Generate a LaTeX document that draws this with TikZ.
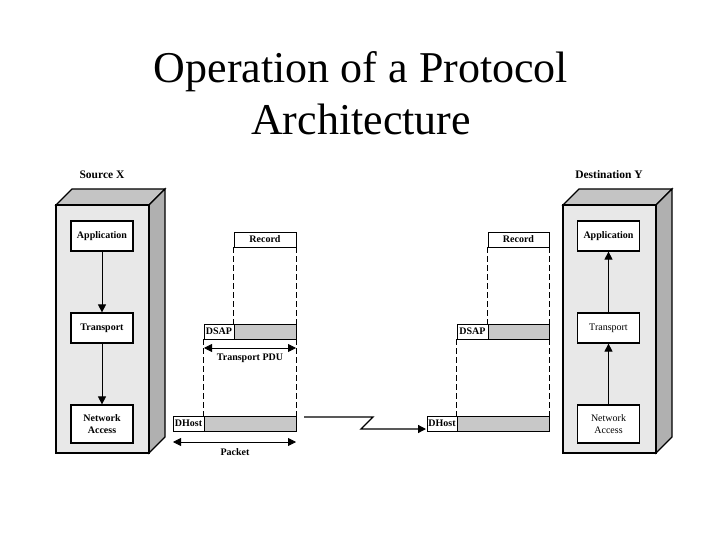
\documentclass[tikz,border=0pt]{standalone}
\usepackage{fontspec}
\setmainfont{Liberation Serif}
\usetikzlibrary{arrows.meta}
\definecolor{facefront}{RGB}{232,232,232}
\definecolor{facetop}{RGB}{196,196,196}
\definecolor{faceside}{RGB}{176,176,176}
\definecolor{pdugray}{RGB}{200,200,200}
\begin{document}
\begin{tikzpicture}[x=1pt,y=-1pt,
  titlefont/.style={font=\fontsize{44}{52}\selectfont},
  layer/.style={draw, fill=white, minimum width=62pt, minimum height=30pt, inner sep=0pt, align=center, line width=1.2pt, font=\fontsize{10}{11.5}\selectfont\bfseries},
  layerlight/.style={layer, font=\fontsize{10}{11.5}\selectfont},
  hdr/.style={draw, fill=white, inner sep=0pt, minimum height=15pt, line width=0.7pt, font=\fontsize{10}{11}\selectfont\bfseries},
  pdu/.style={draw, fill=pdugray, inner sep=0pt, minimum height=15pt, line width=0.7pt},
  lbl/.style={inner sep=0pt, font=\fontsize{10}{11}\selectfont\bfseries},
  stlbl/.style={inner sep=0pt, font=\fontsize{11.5}{13}\selectfont\bfseries},
  arr/.style={-{Triangle[length=8pt,width=8pt]}, line width=0.8pt},
  darr/.style={{Triangle[length=8pt,width=8pt]}-{Triangle[length=8pt,width=8pt]}, line width=0.8pt},
  dsh/.style={dash pattern=on 6pt off 3pt, line width=0.7pt}]
\useasboundingbox (0,0) rectangle (720,540);

% title
\node[titlefont, anchor=base] (title1) at (361,83) {Operation of a Protocol};
\node[titlefont, anchor=base] (title2) at (361,135) {Architecture};

% ---- left station
\filldraw[fill=facetop, line width=1.2pt] (56,205) -- (72,189) -- (165,189) -- (149,205) -- cycle;
\filldraw[fill=faceside, line width=1.2pt] (149,205) -- (165,189) -- (165,437) -- (149,453) -- cycle;
\filldraw[fill=facefront, line width=1.2pt] (56,205) rectangle (149,453);
\node[stlbl] (srcx) at (102,175) {Source X};
\node[layer] (appL) at (102,236) {Application};
\node[layer] (trL) at (102,328) {Transport};
\node[layer, minimum height=38pt] (naL) at (102,424) {Network\\Access};
\draw[arr] (appL) -- (trL);
\draw[arr] (trL) -- (naL);

% ---- right station
\filldraw[fill=facetop, line width=1.2pt] (563,205) -- (579,189) -- (672,189) -- (656,205) -- cycle;
\filldraw[fill=faceside, line width=1.2pt] (656,205) -- (672,189) -- (672,437) -- (656,453) -- cycle;
\filldraw[fill=facefront, line width=1.2pt] (563,205) rectangle (656,453);
\node[stlbl] (dsty) at (609,175) {Destination Y};
\node[layer] (appR) at (608.5,236) {Application};
\node[layerlight] (trR) at (608.5,328) {Transport};
\node[layerlight, minimum height=38pt] (naR) at (608.5,424) {Network\\Access};
\draw[arr] (naR) -- (trR);
\draw[arr] (trR) -- (appR);

% ---- left PDUs
\node[hdr, minimum width=62pt] (recL) at (265,239.5) {Record};
\node[hdr, minimum width=30pt] (dsapL) at (219,331.5) {DSAP};
\node[pdu, minimum width=62pt] (dsapgL) at (265,331.5) {};
\node[hdr, minimum width=31pt] (dhostL) at (188.5,423.5) {DHost};
\node[pdu, minimum width=92pt] (dhostgL) at (250,423.5) {};
\draw[dsh] (recL.south west) -- (dsapgL.north west);
\draw[dsh] (recL.south east) -- (dsapgL.north east);
\draw[dsh] (dsapL.south west) -- (dhostgL.north west);
\draw[dsh] (dsapgL.south east) -- (dhostgL.north east);
\coordinate (pduA) at (204,348);
\coordinate (pduB) at (296,348);
\draw[darr] (pduA) -- (pduB);
\node[lbl] (pdulbl) at (250,358) {Transport PDU};
\coordinate (pktA) at (173,442);
\coordinate (pktB) at (296,442);
\draw[darr] (pktA) -- (pktB);
\node[lbl] (pktlbl) at (235,452) {Packet};

% ---- right PDUs
\node[hdr, minimum width=61pt] (recR) at (518.5,239.5) {Record};
\node[hdr, minimum width=31pt] (dsapR) at (472.5,331.5) {DSAP};
\node[pdu, minimum width=61pt] (dsapgR) at (518.5,331.5) {};
\node[hdr, minimum width=30pt] (dhostR) at (442,423.5) {DHost};
\node[pdu, minimum width=92pt] (dhostgR) at (503,423.5) {};
\draw[dsh] (recR.south west) -- (dsapgR.north west);
\draw[dsh] (recR.south east) -- (dsapgR.north east);
\draw[dsh] (dsapR.south west) -- (dhostgR.north west);
\draw[dsh] (dsapgR.south east) -- (dhostgR.north east);

% ---- link
\coordinate (lnkA) at (304,417);
\coordinate (lnkB) at (426,429);
\draw[arr, line width=1.3pt] (lnkA) -- (373,417) -- (361,429) -- (lnkB);
\end{tikzpicture}
\end{document}
